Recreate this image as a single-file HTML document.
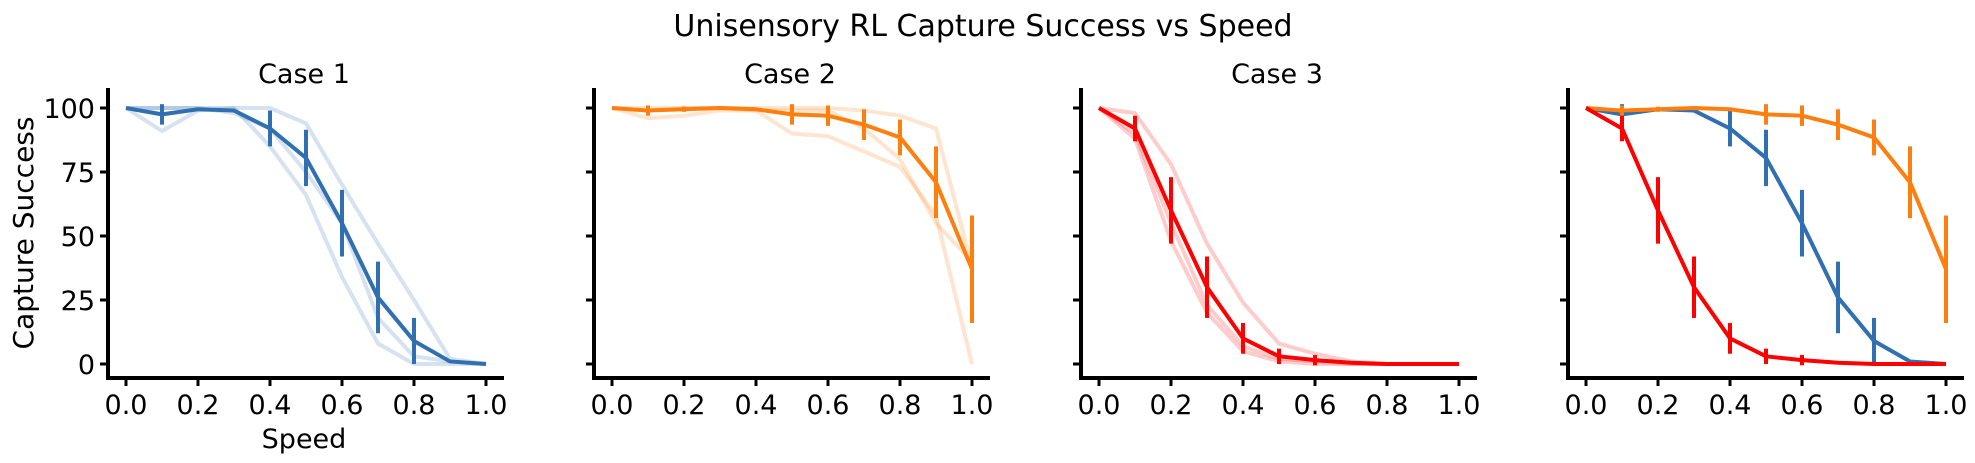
<!DOCTYPE html>
<html><head><meta charset="utf-8">
<style>
html,body{margin:0;padding:0;background:#fff;}
svg{display:block;font-family:"DejaVu Sans","Liberation Sans",sans-serif;}
</style></head>
<body>
<svg id="chart" width="1975" height="463" viewBox="0 0 1975 463" xmlns="http://www.w3.org/2000/svg">
<text x="983" y="36" font-size="30" text-anchor="middle" fill="#000">Unisensory RL Capture Success vs Speed</text>
</svg>
<script>
const speeds = [0,0.1,0.2,0.3,0.4,0.5,0.6,0.7,0.8,0.9,1.0];
const xTicks = [0,0.2,0.4,0.6,0.8,1.0];
const xTickLabels = ["0.0","0.2","0.4","0.6","0.8","1.0"];
const yTicks = [0,25,50,75,100];
const yTickLabels = ["0","25","50","75","100"];

const case1Mean = [100,97.5,99.5,99,92,80.5,55,26,9,1,0];
const case1Err  = [0,4,0,0,7,11,13,14,9,0,0];
const case1SeedA = [100,91,99,100,85,66,34,8,0,0,0];
const case1SeedB = [100,100,100,100,100,94,70,47,25,2,0];
const case1SeedC = [100,100,100,98,92,75,55,18,3,1,0];

const case2Mean = [100,99,99.5,100,99.5,97.5,97,93.5,88.5,71,37];
const case2Err  = [0,2,1,0,0,4,4,6,7,14,21];
const case2SeedA = [100,96,97,99,99,90,89,83,77,58,0];
const case2SeedB = [100,100,100,100,100,100,100,99,97,92,38];
const case2SeedC = [100,99,100,100,99,99,99,92,80,55,40];

const case3Mean = [100,92,60,30,10,3,1.5,0.5,0,0,0];
const case3Err  = [0,5,13,12,6,3,2,0,0,0,0];
const case3SeedA = [100,98,78,47,24,8,4,1,0,0,0];
const case3SeedB = [100,88,48,20,5,1,0,0,0,0,0];
const case3SeedC = [100,90,55,23,7,2,1,0,0,0,0];

const BLUE="#3070b0", ORANGE="#ff7f0e", RED="#ff0000";
const svg=document.getElementById('chart');
const NS="http://www.w3.org/2000/svg";
function mk(tag,attrs){const e=document.createElementNS(NS,tag);for(const k in attrs)e.setAttribute(k,attrs[k]);return e;}

const panelLefts=[108,594,1081,1568];
const axW=396, xMin=-0.05, xMax=1.05, y0px=364, yPer=2.56, axBottom=378, axTop=88;

function drawPanel(pi,title,series,showYLabels,showXLabel){
  const L=panelLefts[pi];
  const g=mk('g',{});
  
  
  svg.appendChild(g);
  const xs=v=>L+(v-xMin)/(xMax-xMin)*axW;
  const ys=v=>y0px-v*yPer;
  series.forEach(s=>{
    s.seeds.forEach((sd,si)=>{
      const p=mk('polyline',{points:speeds.map((x,i)=>xs(x)+','+ys(sd[i])).join(' '),fill:'none',stroke:s.color,'stroke-opacity':0.2,'stroke-width':4,'stroke-linejoin':'round'});
      
      
      g.appendChild(p);
    });
  });
  series.forEach(s=>{
    const p=mk('polyline',{points:speeds.map((x,i)=>xs(x)+','+ys(s.mean[i])).join(' '),fill:'none',stroke:s.color,'stroke-width':4,'stroke-linejoin':'round'});
    
    
    g.appendChild(p);
    speeds.forEach((x,i)=>{
      if(s.err[i]>0){
        const e=mk('line',{x1:xs(x),x2:xs(x),y1:ys(s.mean[i]-s.err[i]),y2:ys(s.mean[i]+s.err[i]),stroke:s.color,'stroke-width':4});
        
        
        g.appendChild(e);
      }
    });
  });
  const sl=mk('line',{x1:L,x2:L,y1:axTop,y2:axBottom+2,stroke:'#000','stroke-width':4});
  
  
  g.appendChild(sl);
  const sb=mk('line',{x1:L-2,x2:L+axW,y1:axBottom,y2:axBottom,stroke:'#000','stroke-width':4});
  
  
  g.appendChild(sb);
  xTicks.forEach((t,i)=>{
    const tk=mk('line',{x1:xs(t),x2:xs(t),y1:axBottom,y2:axBottom+8,stroke:'#000','stroke-width':3});
    
    
    g.appendChild(tk);
    const tx=mk('text',{x:xs(t),y:414,'font-size':27,'text-anchor':'middle'});
    tx.textContent=xTickLabels[i];
    
    
    g.appendChild(tx);
  });
  yTicks.forEach((t,i)=>{
    const tk=mk('line',{x1:L-8,x2:L,y1:ys(t),y2:ys(t),stroke:'#000','stroke-width':3});
    
    
    g.appendChild(tk);
    if(showYLabels){
      const tx=mk('text',{x:L-13,y:ys(t)+10,'font-size':27,'text-anchor':'end'});
      tx.textContent=yTickLabels[i];
      
      
      g.appendChild(tx);
    }
  });
  if(title){
    const tt=mk('text',{x:L+axW/2-2,y:83,'font-size':27,'text-anchor':'middle'});
    tt.textContent=title;
    
    
    g.appendChild(tt);
  }
  if(showXLabel){
    const xl=mk('text',{x:L+axW/2-2,y:448,'font-size':27,'text-anchor':'middle'});
    xl.textContent='Speed';
    
    
    g.appendChild(xl);
  }
  if(showYLabels){
    const yl=mk('text',{x:0,y:0,'font-size':28,'text-anchor':'middle',transform:'translate(33,233) rotate(-90)'});
    yl.textContent='Capture Success';
    
    
    g.appendChild(yl);
  }
}
const s1={name:'case1',color:BLUE,mean:case1Mean,err:case1Err,seeds:[case1SeedA,case1SeedB,case1SeedC]};
const s2={name:'case2',color:ORANGE,mean:case2Mean,err:case2Err,seeds:[case2SeedA,case2SeedB,case2SeedC]};
const s3={name:'case3',color:RED,mean:case3Mean,err:case3Err,seeds:[case3SeedA,case3SeedB,case3SeedC]};
drawPanel(0,'Case 1',[s1],true,true);
drawPanel(1,'Case 2',[s2],false,false);
drawPanel(2,'Case 3',[s3],false,false);
drawPanel(3,'',[Object.assign({},s1,{seeds:[]}),Object.assign({},s2,{seeds:[]}),Object.assign({},s3,{seeds:[]})],false,false);
</script>
</body></html>
